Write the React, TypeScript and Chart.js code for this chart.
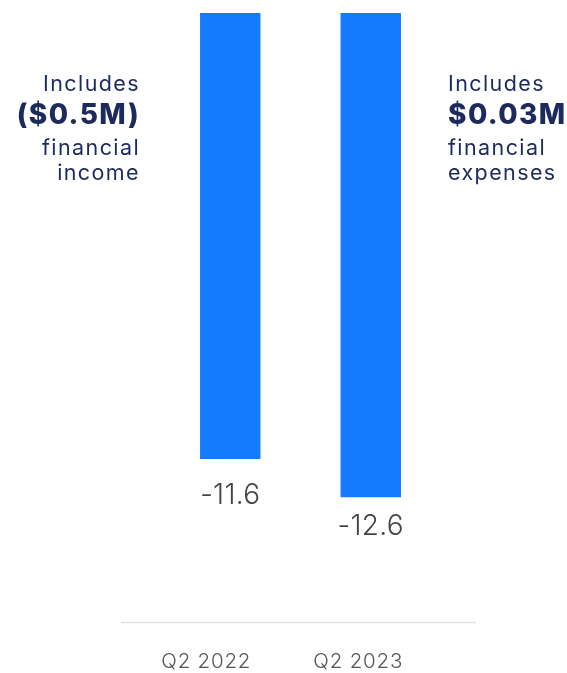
import React, { useEffect, useRef } from "react";
import { Chart, registerables } from "chart.js";

Chart.register(...registerables);

const categories = ["Q2 2022", "Q2 2023"];
const values = [-11.6, -12.6];
const valueLabels = ["-11.6", "-12.6"];
const leftNote = ["Includes", "($0.5M)", "financial", "income"];
const rightNote = ["Includes", "$0.03M", "financial", "expenses"];

const FONT = "Inter, 'Noto Sans', sans-serif";
const NAVY = "#1c2b5c";

const overlay = {
  id: "overlay",
  afterDraw(chart: any) {
    const ctx = chart.ctx;
    const meta = chart.getDatasetMeta(0);
    ctx.save();
    // axis line
    ctx.strokeStyle = "#e3e3e3";
    ctx.lineWidth = 1.5;
    ctx.beginPath();
    ctx.moveTo(121, 622.5);
    ctx.lineTo(476, 622.5);
    ctx.stroke();

    // category labels
    ctx.fillStyle = "#555555";
    ctx.font = `300 20.5px ${FONT}`;
    (ctx as any).letterSpacing = "0.8px";
    ctx.textAlign = "center";
    ctx.textBaseline = "alphabetic";
    const shifts = [-24, -12.5];
    categories.forEach((c, i) => {
      const bar = meta.data[i];
      ctx.fillText(c, bar.x + shifts[i], 668);
    });

    // value labels
    (ctx as any).letterSpacing = "0.3px";
    ctx.fillStyle = "#444444";
    ctx.font = `300 28px ${FONT}`;
    const gaps = [45, 38];
    valueLabels.forEach((t, i) => {
      const bar = meta.data[i];
      ctx.fillText(t, bar.x, bar.y + gaps[i]);
    });

    // notes
    const baselines = [91, 124, 155, 180];
    const drawNote = (lines: string[], x: number, align: string) => {
      ctx.textAlign = align;
      ctx.fillStyle = NAVY;
      lines.forEach((l, i) => {
        if (i === 1) {
          ctx.font = `800 28px ${FONT}`;
          (ctx as any).letterSpacing = "1.4px";
        } else {
          ctx.font = `400 21.5px ${FONT}`;
          (ctx as any).letterSpacing = "1.4px";
        }
        ctx.fillText(l, x, baselines[i]);
      });
    };
    drawNote(leftNote, 140, "right");
    drawNote(rightNote, 448, "left");
    ctx.restore();
  },
};

export default function App() {
  const ref = useRef<HTMLCanvasElement | null>(null);
  useEffect(() => {
    if (!ref.current) return;
    const chart = new Chart(ref.current, {
      type: "bar",
      data: {
        labels: categories,
        datasets: [
          {
            data: values,
            backgroundColor: "#147bff",
            borderWidth: 0,
            barPercentage: 0.43,
            categoryPercentage: 1,
          },
        ],
      },
      options: {
        animation: false,
        responsive: false,
        maintainAspectRatio: false,
        layout: { padding: { left: 160, right: 126, top: 13, bottom: 45 } },
        plugins: { legend: { display: false }, tooltip: { enabled: false } },
        scales: {
          x: { display: false },
          y: { display: false, min: -16, max: 0 },
        },
      },
      plugins: [overlay],
    });
    return () => chart.destroy();
  }, []);
  return (
    <div style={{ position: "fixed", left: 0, top: 0, width: 567, height: 673, background: "#fff" }}>
      <canvas ref={ref} width={567} height={673} style={{ width: 567, height: 673 }} />
    </div>
  );
}
